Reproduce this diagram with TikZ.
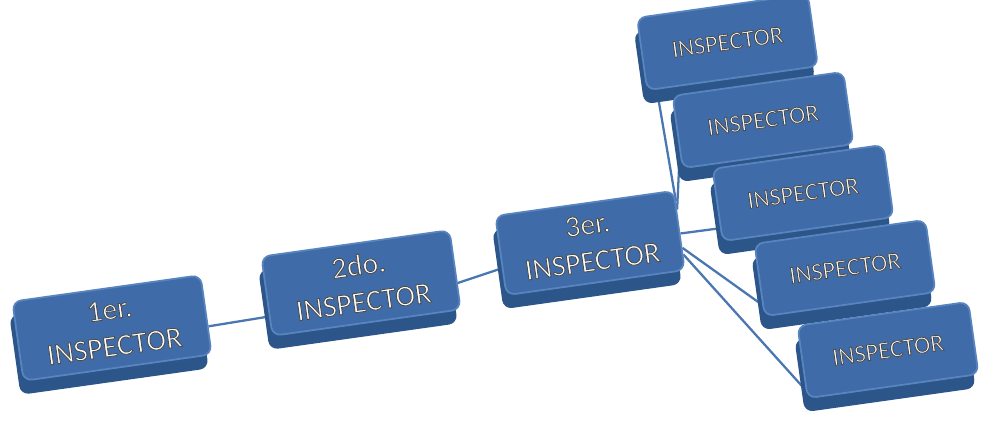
\documentclass[tikz,border=0pt]{standalone}
\usepackage{fontspec}
\setmainfont{Carlito}
\usepackage{tikz}
\usetikzlibrary{shadows,backgrounds}
\definecolor{blkface}{HTML}{3F6CA8}
\definecolor{blkedge}{HTML}{5884BF}
\definecolor{blkside}{HTML}{2C5589}
\definecolor{linkblue}{HTML}{4A77B0}
\newcommand{\embtxt}[1]{\special{pdf:literal direct 0.3 G 0.5 w 2 Tr}#1\special{pdf:literal direct 0 Tr}}
\tikzset{
  inspbox/.style={rectangle,rounded corners=5pt,draw=blkedge,line width=1pt,
    fill=blkface,text=white,rotate=8,align=center,inner sep=0pt,
    minimum width=3.8cm,minimum height=1.6cm,font=\fontsize{17}{21}\selectfont,
    general shadow={fill=blkside,shadow xshift=-0.06cm,shadow yshift=-0.28cm}},
  subbox/.style={inspbox,minimum width=3.45cm,minimum height=1.46cm,
    font=\fontsize{14}{16}\selectfont},
  link/.style={draw=linkblue,line width=1.3pt},
}
\begin{document}
\begin{tikzpicture}
  \useasboundingbox (0,0) rectangle (19.68,8.54);
  \node[inspbox] (i1) at (2.24,1.98) {\embtxt{1er.}\\\embtxt{INSPECTOR}};
  \node[inspbox] (i2) at (7.22,2.88) {\embtxt{2do.}\\\embtxt{INSPECTOR}};
  \node[inspbox,minimum width=3.6cm] (i3) at (11.8,3.68) {\embtxt{3er.}\\\embtxt{INSPECTOR}};
  \node[subbox] (i4) at (14.55,7.7) {\embtxt{INSPECTOR}};
  \node[subbox] (i5) at (15.26,6.14) {\embtxt{INSPECTOR}};
  \node[subbox] (i6) at (16.06,4.68) {\embtxt{INSPECTOR}};
  \node[subbox] (i7) at (16.9,3.18) {\embtxt{INSPECTOR}};
  \node[subbox] (i8) at (17.76,1.54) {\embtxt{INSPECTOR}};

  \begin{pgfonlayer}{background}
    \draw[link] (i1.-7) -- (i2.192);
    \draw[link] (i2.-8) -- (i3.188);
    \draw[link] (i3.18) -- (i4.206);
    \draw[link] (i3.13) -- (i5.194);
    \draw[link] (i3.-2) -- (i6.195);
    \draw[link] (i3.-11) -- (i7.196);
    \draw[link] (i3.-15) -- (i8.198);
  \end{pgfonlayer}
\end{tikzpicture}
\end{document}
